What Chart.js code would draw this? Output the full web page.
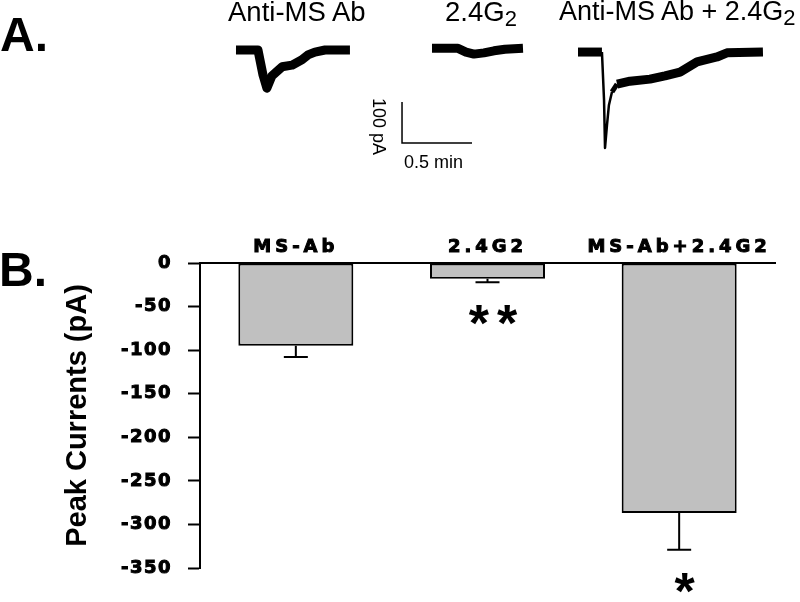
<!DOCTYPE html>
<html>
<head>
<meta charset="utf-8">
<script src="https://cdn.jsdelivr.net/npm/chart.js@4/dist/chart.umd.min.js"></script>
<style>
html,body{margin:0;padding:0;background:#fff;}
#wrap{position:relative;width:800px;height:602px;overflow:hidden;font-family:'Liberation Sans',Arial,sans-serif;color:#000;}
.t{position:absolute;white-space:nowrap;line-height:1;}
.sub{font-size:22px;position:relative;top:5px;}
canvas{position:absolute;left:0;top:0;}
</style>
</head>
<body>
<div id="wrap">
<canvas id="barChart" width="800" height="602" style="width:800px;height:602px"></canvas>
<canvas id="traceChart" width="600" height="175" style="left:200px;top:0;width:600px;height:175px"></canvas>
<div class="t" style="left:0;top:11px;font-size:48px;font-weight:bold">A.</div>
<div class="t" style="left:-1px;top:246px;font-size:48px;font-weight:bold">B.</div>
<div class="t" style="left:228px;top:-2px;font-size:27.5px">Anti-MS Ab</div>
<div class="t" style="left:445px;top:-2px;font-size:27.5px">2.4G<span class="sub">2</span></div>
<div class="t" style="left:559px;top:-2px;font-size:27px">Anti-MS Ab + 2.4G<span class="sub">2</span></div>
<div class="t" style="left:388px;top:98px;font-size:18px;transform-origin:0 0;transform:rotate(90deg)">100 pA</div>
<div class="t" style="left:404px;top:153px;font-size:18px">0.5 min</div>
</div>
<script>
// ---------- Panel B data ----------
const categories = ['MS-Ab', '2.4G2', 'MS-Ab+2.4G2'];
const peakCurrents = [-95, -18, -287];
const peakErrors = [13, 4, 42];
const significance = ['', '**', '*'];
const yTickValues = [0, -50, -100, -150, -200, -250, -300, -350];

// ---------- Panel A traces (time in min from trace start, current in pA) ----------
const traceMsAbTime = [0, 0.157, 0.193, 0.221, 0.257, 0.329, 0.4, 0.471, 0.514, 0.564, 0.636, 0.814];
const traceMsAbCurrent = [0, 0, -61, -93, -63, -41, -37, -24, -12, -5, 0, 0];
const trace24G2Time = [0, 0.186, 0.243, 0.3, 0.371, 0.443, 0.521, 0.65];
const trace24G2Current = [4, 4, -5, -10, -7, -2, 2, 4];
const traceBothTime = [0, 0.171, 0.186, 0.193, 0.207, 0.221, 0.243, 0.279, 0.371, 0.514, 0.621, 0.729, 0.85, 0.993, 1.064, 1.321];
const traceBothCurrent = [-5, -5, -122, -239, -183, -134, -102, -83, -76, -71, -63, -54, -29, -17, -7, -5];
const scaleBarCurrent = 100; // pA
const scaleBarTime = 0.5;    // min

const FONT = "'Liberation Sans', Arial, sans-serif";
const WIDE = "'DejaVu Sans', 'Liberation Sans', Arial, sans-serif";

// ---------- Panel A chart ----------
const pxPerMin = 140, pxPerPA = 0.41, traceCanvasW = 600, traceCanvasH = 175, baselinePx = 50;
const traceStart = [0.257, 1.657, 2.7];   // min, layout placement of each trace
const scaleBarOrigin = {t: 1.443, i: -126.8};

function toXY(times, currents, offset) {
  return times.map((t, k) => ({x: t + offset, y: currents[k]}));
}
const thinSpike = ctx => {
  const k = ctx.p0DataIndex;
  if (k >= 1 && k <= 5) return 2.5;
  if (k === 6) return 5;
  return 9;
};
new Chart(document.getElementById('traceChart'), {
  type: 'line',
  data: {
    datasets: [
      {data: toXY(traceMsAbTime, traceMsAbCurrent, traceStart[0]), borderWidth: 9},
      {data: toXY(trace24G2Time, trace24G2Current, traceStart[1]), borderWidth: 9},
      {data: toXY(traceBothTime, traceBothCurrent, traceStart[2]), borderWidth: 9, segment: {borderWidth: thinSpike}},
      {data: [
        {x: scaleBarOrigin.t, y: scaleBarOrigin.i},
        {x: scaleBarOrigin.t, y: scaleBarOrigin.i - scaleBarCurrent},
        {x: scaleBarOrigin.t + scaleBarTime, y: scaleBarOrigin.i - scaleBarCurrent}
      ], borderWidth: 1.5, borderJoinStyle: 'miter'}
    ].map(d => Object.assign({borderColor: '#000', pointRadius: 0, fill: false, tension: 0, borderJoinStyle: 'round'}, d))
  },
  options: {
    responsive: false, animation: false, devicePixelRatio: 1,
    layout: {padding: 0},
    plugins: {legend: {display: false}, tooltip: {enabled: false}},
    scales: {
      x: {type: 'linear', display: false, min: 0, max: traceCanvasW / pxPerMin},
      y: {type: 'linear', display: false, min: -(traceCanvasH - baselinePx) / pxPerPA, max: baselinePx / pxPerPA}
    }
  }
});

// ---------- Panel B chart ----------
const letterSpacingPlugin = {
  id: 'letterSpacing',
  beforeDraw(chart) {
    const spacing = {x: '4px', y: '1.5px'};
    for (const id in spacing) {
      const s = chart.scales[id];
      if (s && !s._lsPatched) {
        const orig = s.drawLabels.bind(s);
        s.drawLabels = function (area) {
          const c = this.ctx;
          c.save();
          c.letterSpacing = spacing[id];
          orig(area);
          c.restore();
        };
        s._lsPatched = true;
      }
    }
  }
};

const errorBarPlugin = {
  id: 'errorBars',
  afterDatasetsDraw(chart) {
    const {ctx} = chart;
    const x = chart.scales.x, y = chart.scales.y;
    ctx.save();
    ctx.strokeStyle = '#000';
    ctx.fillStyle = '#000';
    ctx.lineWidth = 2;
    peakCurrents.forEach((v, i) => {
      const px = x.getPixelForValue(i);
      const y0 = y.getPixelForValue(v);
      const y1 = y.getPixelForValue(v - peakErrors[i]);
      ctx.beginPath();
      ctx.moveTo(px, y0);
      ctx.lineTo(px, y1);
      ctx.moveTo(px - 12, y1);
      ctx.lineTo(px + 12, y1);
      ctx.stroke();
      if (significance[i]) {
        ctx.font = 'bold 52px ' + FONT;
        ctx.letterSpacing = '8px';
        ctx.textAlign = 'center';
        ctx.textBaseline = 'alphabetic';
        ctx.fillText(significance[i], px + 9.5, y1 + 59);
        ctx.letterSpacing = '0px';
      }
    });
    ctx.restore();
  }
};

new Chart(document.getElementById('barChart'), {
  type: 'bar',
  data: {
    labels: categories,
    datasets: [{
      data: peakCurrents,
      backgroundColor: '#c0c0c0',
      borderColor: '#000',
      borderWidth: 2,
      borderSkipped: false,
      barPercentage: 0.6,
      categoryPercentage: 1
    }]
  },
  options: {
    responsive: false, animation: false, devicePixelRatio: 1,
    layout: {padding: {left: 0, right: 25, top: 0, bottom: 34}},
    plugins: {legend: {display: false}, tooltip: {enabled: false}},
    scales: {
      x: {
        position: 'top',
        grid: {display: false, drawTicks: false},
        border: {display: true, color: '#000', width: 2},
        ticks: {color: '#000', font: {family: WIDE, size: 18, weight: 'bold'}, textStrokeColor: '#000', textStrokeWidth: 1, padding: 5, maxRotation: 0, autoSkip: false},
        afterFit(s) { s.height = 263; }
      },
      y: {
        min: -350, max: 0,
        afterBuildTicks(s) { s.ticks = yTickValues.map(v => ({value: v})); },
        grid: {display: true, drawOnChartArea: false, drawTicks: true, tickLength: 12, tickWidth: 2, tickColor: '#000'},
        border: {display: true, color: '#000', width: 2},
        ticks: {color: '#000', font: {family: WIDE, size: 18, weight: 'bold'}, textStrokeColor: '#000', textStrokeWidth: 1, padding: 16},
        title: {display: true, text: 'Peak Currents (pA)', color: '#000', font: {family: FONT, size: 29, weight: 'bold'}, padding: {top: 61, bottom: 0}},
        afterFit(s) { s.width = 200; }
      }
    }
  },
  plugins: [letterSpacingPlugin, errorBarPlugin]
});
</script>
</body>
</html>
